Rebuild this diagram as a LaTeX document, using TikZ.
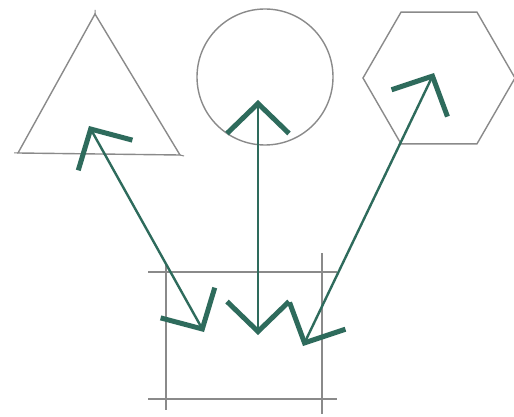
\documentclass[tikz,border=0pt]{standalone}
\usetikzlibrary{arrows.meta}
\definecolor{shapegray}{HTML}{8A8A8A}
\definecolor{arrowgreen}{HTML}{2E6B5C}
\begin{document}
\begin{tikzpicture}[x=1pt,y=-1pt,
  outline/.style={draw=shapegray,line width=1.4pt},
  link/.style={draw=arrowgreen,line width=2.4pt,
    {Straight Barb[length=30pt,width=62pt,line width=5pt]}-{Straight Barb[length=30pt,width=62pt,line width=5pt]}}]
\useasboundingbox[fill=white] (0,0) rectangle (514,417);
% triangle
\coordinate (t1) at (95,14);
\coordinate (t2) at (18,153);
\coordinate (t3) at (180,155);
\draw[outline] (t1) -- (t2) -- (t3) -- cycle;
\draw[outline,line width=1pt] (t2) -- ++(-4,0) (t3) -- ++(4,1) (t1) -- ++(0,-4);
% circle
\node[outline,circle,minimum size=136pt,inner sep=0pt] (c) at (265,77) {};
% hexagon
\coordinate (hc) at (439,78);
\draw[outline] (hc) ++(0:76) -- ++(120:76) -- ++(180:76) -- ++(240:76) -- ++(300:76) -- ++(0:76) -- cycle;
% box with extended edges
\draw[outline] (148,272) -- (337,272);
\draw[outline] (148,399) -- (337,399);
\draw[outline] (166,265) -- (166,410);
\draw[outline] (322,253) -- (322,414);
% arrow endpoints
\coordinate (a1s) at (89,126);
\coordinate (a1e) at (204,332);
\coordinate (a2s) at (258,100);
\coordinate (a2e) at (258,335);
\coordinate (a3s) at (434,73);
\coordinate (a3e) at (303,346);
\draw[link] (a1s) -- (a1e);
\draw[link] (a2s) -- (a2e);
\draw[link] (a3e) -- (a3s);
\end{tikzpicture}
\end{document}
